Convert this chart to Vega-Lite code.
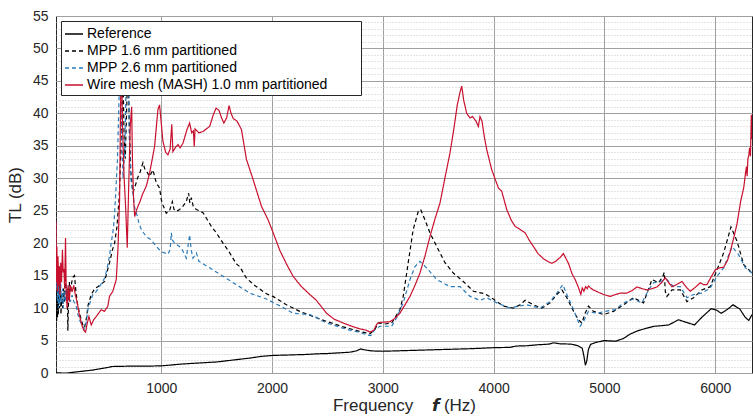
{
"$schema": "https://vega.github.io/schema/vega-lite/v6.json",
"width": 696, "height": 357,
"autosize": {"type": "none"},
"padding": {"left": 56, "top": 16, "right": 1, "bottom": 46},
"config": {"font": "Liberation Sans", "view": {"stroke": "#262626", "strokeWidth": 1},
  "axis": {"labelFont": "Liberation Sans", "labelColor": "#262626", "labelFontSize": 14, "titleFont": "Liberation Sans", "titleFontSize": 17, "titleFontWeight": "normal", "titleColor": "#262626", "domain": false, "ticks": false}},
"data": {"values": [
{"series":"Reference","f":50,"tl":0.05},{"series":"Reference","f":100,"tl":0.0},{"series":"Reference","f":150,"tl":0.0},{"series":"Reference","f":250,"tl":0.2},{"series":"Reference","f":380,"tl":0.45},{"series":"Reference","f":500,"tl":0.8},{"series":"Reference","f":560,"tl":1.0},{"series":"Reference","f":700,"tl":1.05},{"series":"Reference","f":850,"tl":1.05},{"series":"Reference","f":1000,"tl":1.1},{"series":"Reference","f":1100,"tl":1.25},{"series":"Reference","f":1200,"tl":1.4},{"series":"Reference","f":1300,"tl":1.5},{"series":"Reference","f":1400,"tl":1.6},{"series":"Reference","f":1500,"tl":1.7},{"series":"Reference","f":1600,"tl":1.9},{"series":"Reference","f":1700,"tl":2.1},{"series":"Reference","f":1800,"tl":2.3},{"series":"Reference","f":1900,"tl":2.55},{"series":"Reference","f":2000,"tl":2.7},{"series":"Reference","f":2100,"tl":2.75},{"series":"Reference","f":2200,"tl":2.8},{"series":"Reference","f":2300,"tl":2.85},{"series":"Reference","f":2400,"tl":2.95},{"series":"Reference","f":2500,"tl":3.0},{"series":"Reference","f":2600,"tl":3.1},{"series":"Reference","f":2700,"tl":3.2},{"series":"Reference","f":2760,"tl":3.4},{"series":"Reference","f":2800,"tl":3.7},{"series":"Reference","f":2840,"tl":3.55},{"series":"Reference","f":2900,"tl":3.4},{"series":"Reference","f":3000,"tl":3.35},{"series":"Reference","f":3200,"tl":3.45},{"series":"Reference","f":3400,"tl":3.55},{"series":"Reference","f":3600,"tl":3.65},{"series":"Reference","f":3800,"tl":3.75},{"series":"Reference","f":4000,"tl":3.9},{"series":"Reference","f":4150,"tl":3.95},{"series":"Reference","f":4200,"tl":4.15},{"series":"Reference","f":4300,"tl":4.2},{"series":"Reference","f":4400,"tl":4.35},{"series":"Reference","f":4500,"tl":4.45},{"series":"Reference","f":4540,"tl":4.65},{"series":"Reference","f":4600,"tl":4.5},{"series":"Reference","f":4700,"tl":4.45},{"series":"Reference","f":4760,"tl":4.2},{"series":"Reference","f":4800,"tl":3.8},{"series":"Reference","f":4815,"tl":2.6},{"series":"Reference","f":4828,"tl":1.2},{"series":"Reference","f":4840,"tl":1.8},{"series":"Reference","f":4855,"tl":3.6},{"series":"Reference","f":4875,"tl":4.4},{"series":"Reference","f":4920,"tl":4.7},{"series":"Reference","f":5000,"tl":5.0},{"series":"Reference","f":5100,"tl":4.9},{"series":"Reference","f":5170,"tl":5.3},{"series":"Reference","f":5233,"tl":6.0},{"series":"Reference","f":5300,"tl":6.5},{"series":"Reference","f":5380,"tl":6.9},{"series":"Reference","f":5450,"tl":7.2},{"series":"Reference","f":5520,"tl":7.3},{"series":"Reference","f":5580,"tl":7.4},{"series":"Reference","f":5668,"tl":8.2},{"series":"Reference","f":5740,"tl":7.8},{"series":"Reference","f":5813,"tl":7.4},{"series":"Reference","f":5880,"tl":8.6},{"series":"Reference","f":5964,"tl":9.9},{"series":"Reference","f":6010,"tl":9.7},{"series":"Reference","f":6055,"tl":9.2},{"series":"Reference","f":6110,"tl":9.8},{"series":"Reference","f":6160,"tl":10.5},{"series":"Reference","f":6220,"tl":9.9},{"series":"Reference","f":6270,"tl":8.6},{"series":"Reference","f":6303,"tl":8.1},{"series":"Reference","f":6332,"tl":9.0},
{"series":"MPP 1.6 mm partitioned","f":50,"tl":10},{"series":"MPP 1.6 mm partitioned","f":53,"tl":15},{"series":"MPP 1.6 mm partitioned","f":56,"tl":8},{"series":"MPP 1.6 mm partitioned","f":60,"tl":13},{"series":"MPP 1.6 mm partitioned","f":63,"tl":8.5},{"series":"MPP 1.6 mm partitioned","f":67,"tl":12},{"series":"MPP 1.6 mm partitioned","f":71,"tl":9},{"series":"MPP 1.6 mm partitioned","f":76,"tl":14},{"series":"MPP 1.6 mm partitioned","f":82,"tl":10},{"series":"MPP 1.6 mm partitioned","f":88,"tl":13.5},{"series":"MPP 1.6 mm partitioned","f":95,"tl":9},{"series":"MPP 1.6 mm partitioned","f":102,"tl":12},{"series":"MPP 1.6 mm partitioned","f":110,"tl":10},{"series":"MPP 1.6 mm partitioned","f":118,"tl":13},{"series":"MPP 1.6 mm partitioned","f":126,"tl":11},{"series":"MPP 1.6 mm partitioned","f":135,"tl":14.5},{"series":"MPP 1.6 mm partitioned","f":145,"tl":12},{"series":"MPP 1.6 mm partitioned","f":152,"tl":13},{"series":"MPP 1.6 mm partitioned","f":157,"tl":6.5},{"series":"MPP 1.6 mm partitioned","f":163,"tl":11},{"series":"MPP 1.6 mm partitioned","f":172,"tl":14},{"series":"MPP 1.6 mm partitioned","f":182,"tl":12.5},{"series":"MPP 1.6 mm partitioned","f":192,"tl":14},{"series":"MPP 1.6 mm partitioned","f":205,"tl":14.8},{"series":"MPP 1.6 mm partitioned","f":217,"tl":15},{"series":"MPP 1.6 mm partitioned","f":230,"tl":12.5},{"series":"MPP 1.6 mm partitioned","f":245,"tl":10.5},{"series":"MPP 1.6 mm partitioned","f":265,"tl":9},{"series":"MPP 1.6 mm partitioned","f":290,"tl":7.5},{"series":"MPP 1.6 mm partitioned","f":308,"tl":7},{"series":"MPP 1.6 mm partitioned","f":325,"tl":8.5},{"series":"MPP 1.6 mm partitioned","f":340,"tl":10.5},{"series":"MPP 1.6 mm partitioned","f":355,"tl":11.3},{"series":"MPP 1.6 mm partitioned","f":368,"tl":12.1},{"series":"MPP 1.6 mm partitioned","f":400,"tl":13},{"series":"MPP 1.6 mm partitioned","f":428,"tl":13.3},{"series":"MPP 1.6 mm partitioned","f":488,"tl":14.1},{"series":"MPP 1.6 mm partitioned","f":533,"tl":17},{"series":"MPP 1.6 mm partitioned","f":560,"tl":19},{"series":"MPP 1.6 mm partitioned","f":579,"tl":20},{"series":"MPP 1.6 mm partitioned","f":600,"tl":22.5},{"series":"MPP 1.6 mm partitioned","f":620,"tl":27},{"series":"MPP 1.6 mm partitioned","f":640,"tl":36},{"series":"MPP 1.6 mm partitioned","f":655,"tl":46},{"series":"MPP 1.6 mm partitioned","f":665,"tl":36},{"series":"MPP 1.6 mm partitioned","f":675,"tl":33},{"series":"MPP 1.6 mm partitioned","f":690,"tl":42},{"series":"MPP 1.6 mm partitioned","f":700,"tl":48},{"series":"MPP 1.6 mm partitioned","f":712,"tl":38},{"series":"MPP 1.6 mm partitioned","f":725,"tl":31},{"series":"MPP 1.6 mm partitioned","f":744,"tl":27.8},{"series":"MPP 1.6 mm partitioned","f":760,"tl":28.5},{"series":"MPP 1.6 mm partitioned","f":785,"tl":30},{"series":"MPP 1.6 mm partitioned","f":810,"tl":31},{"series":"MPP 1.6 mm partitioned","f":835,"tl":32.4},{"series":"MPP 1.6 mm partitioned","f":850,"tl":31.5},{"series":"MPP 1.6 mm partitioned","f":870,"tl":31},{"series":"MPP 1.6 mm partitioned","f":895,"tl":30.3},{"series":"MPP 1.6 mm partitioned","f":925,"tl":31.3},{"series":"MPP 1.6 mm partitioned","f":955,"tl":29.3},{"series":"MPP 1.6 mm partitioned","f":985,"tl":28.5},{"series":"MPP 1.6 mm partitioned","f":1000,"tl":26.7},{"series":"MPP 1.6 mm partitioned","f":1015,"tl":25.9},{"series":"MPP 1.6 mm partitioned","f":1045,"tl":24.6},{"series":"MPP 1.6 mm partitioned","f":1075,"tl":25},{"series":"MPP 1.6 mm partitioned","f":1100,"tl":26.4},{"series":"MPP 1.6 mm partitioned","f":1115,"tl":25.2},{"series":"MPP 1.6 mm partitioned","f":1135,"tl":24.9},{"series":"MPP 1.6 mm partitioned","f":1166,"tl":25.2},{"series":"MPP 1.6 mm partitioned","f":1196,"tl":25.7},{"series":"MPP 1.6 mm partitioned","f":1226,"tl":26.4},{"series":"MPP 1.6 mm partitioned","f":1247,"tl":27.7},{"series":"MPP 1.6 mm partitioned","f":1258,"tl":26.2},{"series":"MPP 1.6 mm partitioned","f":1271,"tl":27},{"series":"MPP 1.6 mm partitioned","f":1290,"tl":25.6},{"series":"MPP 1.6 mm partitioned","f":1317,"tl":25.2},{"series":"MPP 1.6 mm partitioned","f":1377,"tl":24.7},{"series":"MPP 1.6 mm partitioned","f":1452,"tl":22.6},{"series":"MPP 1.6 mm partitioned","f":1497,"tl":21.6},{"series":"MPP 1.6 mm partitioned","f":1558,"tl":20},{"series":"MPP 1.6 mm partitioned","f":1618,"tl":18.5},{"series":"MPP 1.6 mm partitioned","f":1678,"tl":16.8},{"series":"MPP 1.6 mm partitioned","f":1708,"tl":16.4},{"series":"MPP 1.6 mm partitioned","f":1769,"tl":14.6},{"series":"MPP 1.6 mm partitioned","f":1850,"tl":13.4},{"series":"MPP 1.6 mm partitioned","f":1950,"tl":12.2},{"series":"MPP 1.6 mm partitioned","f":2009,"tl":11.8},{"series":"MPP 1.6 mm partitioned","f":2130,"tl":10.5},{"series":"MPP 1.6 mm partitioned","f":2250,"tl":9.5},{"series":"MPP 1.6 mm partitioned","f":2371,"tl":8.7},{"series":"MPP 1.6 mm partitioned","f":2492,"tl":7.95},{"series":"MPP 1.6 mm partitioned","f":2642,"tl":7.1},{"series":"MPP 1.6 mm partitioned","f":2793,"tl":6.4},{"series":"MPP 1.6 mm partitioned","f":2883,"tl":6.05},{"series":"MPP 1.6 mm partitioned","f":2928,"tl":6.7},{"series":"MPP 1.6 mm partitioned","f":2958,"tl":7.7},{"series":"MPP 1.6 mm partitioned","f":3019,"tl":7.55},{"series":"MPP 1.6 mm partitioned","f":3079,"tl":7.7},{"series":"MPP 1.6 mm partitioned","f":3154,"tl":9.75},{"series":"MPP 1.6 mm partitioned","f":3184,"tl":11.8},{"series":"MPP 1.6 mm partitioned","f":3229,"tl":17},{"series":"MPP 1.6 mm partitioned","f":3274,"tl":22.1},{"series":"MPP 1.6 mm partitioned","f":3320,"tl":24.9},{"series":"MPP 1.6 mm partitioned","f":3341,"tl":25.2},{"series":"MPP 1.6 mm partitioned","f":3380,"tl":23.6},{"series":"MPP 1.6 mm partitioned","f":3425,"tl":21.6},{"series":"MPP 1.6 mm partitioned","f":3486,"tl":19.5},{"series":"MPP 1.6 mm partitioned","f":3561,"tl":17},{"series":"MPP 1.6 mm partitioned","f":3636,"tl":15.4},{"series":"MPP 1.6 mm partitioned","f":3726,"tl":14.1},{"series":"MPP 1.6 mm partitioned","f":3817,"tl":12.6},{"series":"MPP 1.6 mm partitioned","f":3922,"tl":12.2},{"series":"MPP 1.6 mm partitioned","f":3997,"tl":11.4},{"series":"MPP 1.6 mm partitioned","f":4088,"tl":10.3},{"series":"MPP 1.6 mm partitioned","f":4178,"tl":10},{"series":"MPP 1.6 mm partitioned","f":4239,"tl":10.5},{"series":"MPP 1.6 mm partitioned","f":4284,"tl":11.2},{"series":"MPP 1.6 mm partitioned","f":4359,"tl":10.5},{"series":"MPP 1.6 mm partitioned","f":4435,"tl":10},{"series":"MPP 1.6 mm partitioned","f":4510,"tl":10.8},{"series":"MPP 1.6 mm partitioned","f":4570,"tl":12.1},{"series":"MPP 1.6 mm partitioned","f":4616,"tl":12.8},{"series":"MPP 1.6 mm partitioned","f":4661,"tl":11.6},{"series":"MPP 1.6 mm partitioned","f":4721,"tl":9.5},{"series":"MPP 1.6 mm partitioned","f":4766,"tl":8.2},{"series":"MPP 1.6 mm partitioned","f":4796,"tl":7.7},{"series":"MPP 1.6 mm partitioned","f":4826,"tl":9.2},{"series":"MPP 1.6 mm partitioned","f":4856,"tl":10.3},{"series":"MPP 1.6 mm partitioned","f":4901,"tl":9.5},{"series":"MPP 1.6 mm partitioned","f":4992,"tl":9},{"series":"MPP 1.6 mm partitioned","f":5082,"tl":9.5},{"series":"MPP 1.6 mm partitioned","f":5172,"tl":10.5},{"series":"MPP 1.6 mm partitioned","f":5262,"tl":11.6},{"series":"MPP 1.6 mm partitioned","f":5353,"tl":10.8},{"series":"MPP 1.6 mm partitioned","f":5429,"tl":14.4},{"series":"MPP 1.6 mm partitioned","f":5489,"tl":13.9},{"series":"MPP 1.6 mm partitioned","f":5528,"tl":14.9},{"series":"MPP 1.6 mm partitioned","f":5540,"tl":15.5},{"series":"MPP 1.6 mm partitioned","f":5550,"tl":12.5},{"series":"MPP 1.6 mm partitioned","f":5564,"tl":11.8},{"series":"MPP 1.6 mm partitioned","f":5610,"tl":12.8},{"series":"MPP 1.6 mm partitioned","f":5685,"tl":12.8},{"series":"MPP 1.6 mm partitioned","f":5745,"tl":11},{"series":"MPP 1.6 mm partitioned","f":5805,"tl":11.6},{"series":"MPP 1.6 mm partitioned","f":5880,"tl":12.8},{"series":"MPP 1.6 mm partitioned","f":5955,"tl":13.3},{"series":"MPP 1.6 mm partitioned","f":6016,"tl":15.9},{"series":"MPP 1.6 mm partitioned","f":6076,"tl":18.5},{"series":"MPP 1.6 mm partitioned","f":6142,"tl":22.5},{"series":"MPP 1.6 mm partitioned","f":6197,"tl":20.3},{"series":"MPP 1.6 mm partitioned","f":6257,"tl":16.7},{"series":"MPP 1.6 mm partitioned","f":6332,"tl":15.4},
{"series":"MPP 2.6 mm partitioned","f":50,"tl":23.2},{"series":"MPP 2.6 mm partitioned","f":52,"tl":20},{"series":"MPP 2.6 mm partitioned","f":55,"tl":13},{"series":"MPP 2.6 mm partitioned","f":59,"tl":16},{"series":"MPP 2.6 mm partitioned","f":63,"tl":11},{"series":"MPP 2.6 mm partitioned","f":67,"tl":14},{"series":"MPP 2.6 mm partitioned","f":72,"tl":10},{"series":"MPP 2.6 mm partitioned","f":78,"tl":13},{"series":"MPP 2.6 mm partitioned","f":85,"tl":10.5},{"series":"MPP 2.6 mm partitioned","f":92,"tl":14},{"series":"MPP 2.6 mm partitioned","f":100,"tl":11},{"series":"MPP 2.6 mm partitioned","f":108,"tl":13},{"series":"MPP 2.6 mm partitioned","f":115,"tl":10},{"series":"MPP 2.6 mm partitioned","f":125,"tl":12.5},{"series":"MPP 2.6 mm partitioned","f":135,"tl":11},{"series":"MPP 2.6 mm partitioned","f":145,"tl":13.5},{"series":"MPP 2.6 mm partitioned","f":155,"tl":11},{"series":"MPP 2.6 mm partitioned","f":165,"tl":12.5},{"series":"MPP 2.6 mm partitioned","f":180,"tl":11},{"series":"MPP 2.6 mm partitioned","f":195,"tl":12},{"series":"MPP 2.6 mm partitioned","f":210,"tl":11},{"series":"MPP 2.6 mm partitioned","f":230,"tl":10.5},{"series":"MPP 2.6 mm partitioned","f":255,"tl":8.5},{"series":"MPP 2.6 mm partitioned","f":280,"tl":7.5},{"series":"MPP 2.6 mm partitioned","f":305,"tl":6.8},{"series":"MPP 2.6 mm partitioned","f":320,"tl":7.5},{"series":"MPP 2.6 mm partitioned","f":338,"tl":9.75},{"series":"MPP 2.6 mm partitioned","f":360,"tl":11},{"series":"MPP 2.6 mm partitioned","f":383,"tl":12.1},{"series":"MPP 2.6 mm partitioned","f":410,"tl":12.5},{"series":"MPP 2.6 mm partitioned","f":443,"tl":13.3},{"series":"MPP 2.6 mm partitioned","f":488,"tl":14.6},{"series":"MPP 2.6 mm partitioned","f":510,"tl":16},{"series":"MPP 2.6 mm partitioned","f":533,"tl":18},{"series":"MPP 2.6 mm partitioned","f":548,"tl":20},{"series":"MPP 2.6 mm partitioned","f":563,"tl":21.6},{"series":"MPP 2.6 mm partitioned","f":575,"tl":23.5},{"series":"MPP 2.6 mm partitioned","f":590,"tl":28},{"series":"MPP 2.6 mm partitioned","f":605,"tl":33},{"series":"MPP 2.6 mm partitioned","f":618,"tl":41.6},{"series":"MPP 2.6 mm partitioned","f":628,"tl":50},{"series":"MPP 2.6 mm partitioned","f":640,"tl":38},{"series":"MPP 2.6 mm partitioned","f":655,"tl":30},{"series":"MPP 2.6 mm partitioned","f":670,"tl":34},{"series":"MPP 2.6 mm partitioned","f":685,"tl":46},{"series":"MPP 2.6 mm partitioned","f":700,"tl":50},{"series":"MPP 2.6 mm partitioned","f":712,"tl":36},{"series":"MPP 2.6 mm partitioned","f":725,"tl":30},{"series":"MPP 2.6 mm partitioned","f":744,"tl":27.7},{"series":"MPP 2.6 mm partitioned","f":760,"tl":25.5},{"series":"MPP 2.6 mm partitioned","f":775,"tl":24.7},{"series":"MPP 2.6 mm partitioned","f":800,"tl":23},{"series":"MPP 2.6 mm partitioned","f":820,"tl":22.1},{"series":"MPP 2.6 mm partitioned","f":865,"tl":21},{"series":"MPP 2.6 mm partitioned","f":910,"tl":20.5},{"series":"MPP 2.6 mm partitioned","f":955,"tl":19.5},{"series":"MPP 2.6 mm partitioned","f":1000,"tl":18.7},{"series":"MPP 2.6 mm partitioned","f":1060,"tl":18.3},{"series":"MPP 2.6 mm partitioned","f":1080,"tl":19},{"series":"MPP 2.6 mm partitioned","f":1091,"tl":21.6},{"series":"MPP 2.6 mm partitioned","f":1100,"tl":20.5},{"series":"MPP 2.6 mm partitioned","f":1121,"tl":20},{"series":"MPP 2.6 mm partitioned","f":1181,"tl":19.3},{"series":"MPP 2.6 mm partitioned","f":1226,"tl":17.7},{"series":"MPP 2.6 mm partitioned","f":1256,"tl":21.3},{"series":"MPP 2.6 mm partitioned","f":1270,"tl":19},{"series":"MPP 2.6 mm partitioned","f":1286,"tl":17.7},{"series":"MPP 2.6 mm partitioned","f":1317,"tl":18.5},{"series":"MPP 2.6 mm partitioned","f":1340,"tl":17.2},{"series":"MPP 2.6 mm partitioned","f":1437,"tl":16.2},{"series":"MPP 2.6 mm partitioned","f":1558,"tl":14.9},{"series":"MPP 2.6 mm partitioned","f":1678,"tl":13.6},{"series":"MPP 2.6 mm partitioned","f":1799,"tl":12.3},{"series":"MPP 2.6 mm partitioned","f":1950,"tl":11.4},{"series":"MPP 2.6 mm partitioned","f":2040,"tl":10.6},{"series":"MPP 2.6 mm partitioned","f":2100,"tl":10.1},{"series":"MPP 2.6 mm partitioned","f":2190,"tl":9.2},{"series":"MPP 2.6 mm partitioned","f":2341,"tl":9},{"series":"MPP 2.6 mm partitioned","f":2400,"tl":8.6},{"series":"MPP 2.6 mm partitioned","f":2431,"tl":8.2},{"series":"MPP 2.6 mm partitioned","f":2492,"tl":7.7},{"series":"MPP 2.6 mm partitioned","f":2551,"tl":7.4},{"series":"MPP 2.6 mm partitioned","f":2642,"tl":6.9},{"series":"MPP 2.6 mm partitioned","f":2702,"tl":6.6},{"series":"MPP 2.6 mm partitioned","f":2793,"tl":6.25},{"series":"MPP 2.6 mm partitioned","f":2853,"tl":5.9},{"series":"MPP 2.6 mm partitioned","f":2890,"tl":5.75},{"series":"MPP 2.6 mm partitioned","f":2928,"tl":6.7},{"series":"MPP 2.6 mm partitioned","f":2973,"tl":7.2},{"series":"MPP 2.6 mm partitioned","f":3079,"tl":7.2},{"series":"MPP 2.6 mm partitioned","f":3124,"tl":8.5},{"series":"MPP 2.6 mm partitioned","f":3184,"tl":10.8},{"series":"MPP 2.6 mm partitioned","f":3245,"tl":14.4},{"series":"MPP 2.6 mm partitioned","f":3290,"tl":16.4},{"series":"MPP 2.6 mm partitioned","f":3335,"tl":17.2},{"series":"MPP 2.6 mm partitioned","f":3395,"tl":16.2},{"series":"MPP 2.6 mm partitioned","f":3486,"tl":14.4},{"series":"MPP 2.6 mm partitioned","f":3606,"tl":13.3},{"series":"MPP 2.6 mm partitioned","f":3697,"tl":13.3},{"series":"MPP 2.6 mm partitioned","f":3787,"tl":11.8},{"series":"MPP 2.6 mm partitioned","f":3877,"tl":11.2},{"series":"MPP 2.6 mm partitioned","f":3938,"tl":11.6},{"series":"MPP 2.6 mm partitioned","f":4028,"tl":10.8},{"series":"MPP 2.6 mm partitioned","f":4148,"tl":10},{"series":"MPP 2.6 mm partitioned","f":4224,"tl":10.3},{"series":"MPP 2.6 mm partitioned","f":4299,"tl":10.5},{"series":"MPP 2.6 mm partitioned","f":4390,"tl":10.1},{"series":"MPP 2.6 mm partitioned","f":4420,"tl":10},{"series":"MPP 2.6 mm partitioned","f":4510,"tl":11},{"series":"MPP 2.6 mm partitioned","f":4570,"tl":12.3},{"series":"MPP 2.6 mm partitioned","f":4624,"tl":13.6},{"series":"MPP 2.6 mm partitioned","f":4661,"tl":12.1},{"series":"MPP 2.6 mm partitioned","f":4721,"tl":9.75},{"series":"MPP 2.6 mm partitioned","f":4781,"tl":7.2},{"series":"MPP 2.6 mm partitioned","f":4811,"tl":7.95},{"series":"MPP 2.6 mm partitioned","f":4856,"tl":9.5},{"series":"MPP 2.6 mm partitioned","f":4931,"tl":9.2},{"series":"MPP 2.6 mm partitioned","f":5006,"tl":9.5},{"series":"MPP 2.6 mm partitioned","f":5097,"tl":9.75},{"series":"MPP 2.6 mm partitioned","f":5172,"tl":10.8},{"series":"MPP 2.6 mm partitioned","f":5262,"tl":11.4},{"series":"MPP 2.6 mm partitioned","f":5338,"tl":10.8},{"series":"MPP 2.6 mm partitioned","f":5398,"tl":12.8},{"series":"MPP 2.6 mm partitioned","f":5444,"tl":13.9},{"series":"MPP 2.6 mm partitioned","f":5504,"tl":14.1},{"series":"MPP 2.6 mm partitioned","f":5564,"tl":14.4},{"series":"MPP 2.6 mm partitioned","f":5624,"tl":13.3},{"series":"MPP 2.6 mm partitioned","f":5685,"tl":13.3},{"series":"MPP 2.6 mm partitioned","f":5745,"tl":11.6},{"series":"MPP 2.6 mm partitioned","f":5805,"tl":12.1},{"series":"MPP 2.6 mm partitioned","f":5880,"tl":12.3},{"series":"MPP 2.6 mm partitioned","f":5955,"tl":13.1},{"series":"MPP 2.6 mm partitioned","f":6016,"tl":14.9},{"series":"MPP 2.6 mm partitioned","f":6076,"tl":16.2},{"series":"MPP 2.6 mm partitioned","f":6152,"tl":19.5},{"series":"MPP 2.6 mm partitioned","f":6212,"tl":18.2},{"series":"MPP 2.6 mm partitioned","f":6272,"tl":16.2},{"series":"MPP 2.6 mm partitioned","f":6332,"tl":15.4},
{"series":"Wire mesh (MASH) 1.0 mm partitioned","f":50,"tl":23.4},{"series":"Wire mesh (MASH) 1.0 mm partitioned","f":54,"tl":14},{"series":"Wire mesh (MASH) 1.0 mm partitioned","f":58,"tl":19.5},{"series":"Wire mesh (MASH) 1.0 mm partitioned","f":63,"tl":12.5},{"series":"Wire mesh (MASH) 1.0 mm partitioned","f":68,"tl":18},{"series":"Wire mesh (MASH) 1.0 mm partitioned","f":74,"tl":13.5},{"series":"Wire mesh (MASH) 1.0 mm partitioned","f":80,"tl":16.5},{"series":"Wire mesh (MASH) 1.0 mm partitioned","f":86,"tl":12},{"series":"Wire mesh (MASH) 1.0 mm partitioned","f":93,"tl":17},{"series":"Wire mesh (MASH) 1.0 mm partitioned","f":100,"tl":14},{"series":"Wire mesh (MASH) 1.0 mm partitioned","f":108,"tl":19},{"series":"Wire mesh (MASH) 1.0 mm partitioned","f":115,"tl":15.5},{"series":"Wire mesh (MASH) 1.0 mm partitioned","f":122,"tl":16},{"series":"Wire mesh (MASH) 1.0 mm partitioned","f":128,"tl":13},{"series":"Wire mesh (MASH) 1.0 mm partitioned","f":136,"tl":20.8},{"series":"Wire mesh (MASH) 1.0 mm partitioned","f":143,"tl":12},{"series":"Wire mesh (MASH) 1.0 mm partitioned","f":150,"tl":10},{"series":"Wire mesh (MASH) 1.0 mm partitioned","f":160,"tl":13.5},{"series":"Wire mesh (MASH) 1.0 mm partitioned","f":170,"tl":11},{"series":"Wire mesh (MASH) 1.0 mm partitioned","f":180,"tl":13.5},{"series":"Wire mesh (MASH) 1.0 mm partitioned","f":195,"tl":12.5},{"series":"Wire mesh (MASH) 1.0 mm partitioned","f":210,"tl":13.5},{"series":"Wire mesh (MASH) 1.0 mm partitioned","f":225,"tl":12},{"series":"Wire mesh (MASH) 1.0 mm partitioned","f":240,"tl":11},{"series":"Wire mesh (MASH) 1.0 mm partitioned","f":260,"tl":9},{"series":"Wire mesh (MASH) 1.0 mm partitioned","f":285,"tl":7.3},{"series":"Wire mesh (MASH) 1.0 mm partitioned","f":300,"tl":6.6},{"series":"Wire mesh (MASH) 1.0 mm partitioned","f":317,"tl":6.3},{"series":"Wire mesh (MASH) 1.0 mm partitioned","f":330,"tl":7.5},{"series":"Wire mesh (MASH) 1.0 mm partitioned","f":347,"tl":8.7},{"series":"Wire mesh (MASH) 1.0 mm partitioned","f":368,"tl":7.4},{"series":"Wire mesh (MASH) 1.0 mm partitioned","f":390,"tl":8.2},{"series":"Wire mesh (MASH) 1.0 mm partitioned","f":413,"tl":8.7},{"series":"Wire mesh (MASH) 1.0 mm partitioned","f":458,"tl":9.75},{"series":"Wire mesh (MASH) 1.0 mm partitioned","f":488,"tl":9.5},{"series":"Wire mesh (MASH) 1.0 mm partitioned","f":518,"tl":10.3},{"series":"Wire mesh (MASH) 1.0 mm partitioned","f":533,"tl":11.8},{"series":"Wire mesh (MASH) 1.0 mm partitioned","f":563,"tl":12.6},{"series":"Wire mesh (MASH) 1.0 mm partitioned","f":594,"tl":14.4},{"series":"Wire mesh (MASH) 1.0 mm partitioned","f":609,"tl":19},{"series":"Wire mesh (MASH) 1.0 mm partitioned","f":624,"tl":26.7},{"series":"Wire mesh (MASH) 1.0 mm partitioned","f":632,"tl":40},{"series":"Wire mesh (MASH) 1.0 mm partitioned","f":640,"tl":50},{"series":"Wire mesh (MASH) 1.0 mm partitioned","f":650,"tl":38},{"series":"Wire mesh (MASH) 1.0 mm partitioned","f":665,"tl":30},{"series":"Wire mesh (MASH) 1.0 mm partitioned","f":680,"tl":25},{"series":"Wire mesh (MASH) 1.0 mm partitioned","f":693,"tl":19.3},{"series":"Wire mesh (MASH) 1.0 mm partitioned","f":705,"tl":28},{"series":"Wire mesh (MASH) 1.0 mm partitioned","f":720,"tl":38},{"series":"Wire mesh (MASH) 1.0 mm partitioned","f":733,"tl":41},{"series":"Wire mesh (MASH) 1.0 mm partitioned","f":740,"tl":33},{"series":"Wire mesh (MASH) 1.0 mm partitioned","f":750,"tl":27},{"series":"Wire mesh (MASH) 1.0 mm partitioned","f":760,"tl":24.1},{"series":"Wire mesh (MASH) 1.0 mm partitioned","f":775,"tl":25},{"series":"Wire mesh (MASH) 1.0 mm partitioned","f":790,"tl":25.7},{"series":"Wire mesh (MASH) 1.0 mm partitioned","f":810,"tl":26.5},{"series":"Wire mesh (MASH) 1.0 mm partitioned","f":830,"tl":27.5},{"series":"Wire mesh (MASH) 1.0 mm partitioned","f":865,"tl":28.8},{"series":"Wire mesh (MASH) 1.0 mm partitioned","f":895,"tl":30.8},{"series":"Wire mesh (MASH) 1.0 mm partitioned","f":940,"tl":34.9},{"series":"Wire mesh (MASH) 1.0 mm partitioned","f":970,"tl":40.6},{"series":"Wire mesh (MASH) 1.0 mm partitioned","f":985,"tl":41.3},{"series":"Wire mesh (MASH) 1.0 mm partitioned","f":1000,"tl":38.5},{"series":"Wire mesh (MASH) 1.0 mm partitioned","f":1015,"tl":35.7},{"series":"Wire mesh (MASH) 1.0 mm partitioned","f":1040,"tl":34},{"series":"Wire mesh (MASH) 1.0 mm partitioned","f":1060,"tl":33.6},{"series":"Wire mesh (MASH) 1.0 mm partitioned","f":1080,"tl":34.5},{"series":"Wire mesh (MASH) 1.0 mm partitioned","f":1095,"tl":38.3},{"series":"Wire mesh (MASH) 1.0 mm partitioned","f":1105,"tl":34.1},{"series":"Wire mesh (MASH) 1.0 mm partitioned","f":1130,"tl":34.8},{"series":"Wire mesh (MASH) 1.0 mm partitioned","f":1151,"tl":35.2},{"series":"Wire mesh (MASH) 1.0 mm partitioned","f":1170,"tl":34.7},{"series":"Wire mesh (MASH) 1.0 mm partitioned","f":1196,"tl":35.4},{"series":"Wire mesh (MASH) 1.0 mm partitioned","f":1232,"tl":37.5},{"series":"Wire mesh (MASH) 1.0 mm partitioned","f":1256,"tl":38.5},{"series":"Wire mesh (MASH) 1.0 mm partitioned","f":1275,"tl":37},{"series":"Wire mesh (MASH) 1.0 mm partitioned","f":1290,"tl":37.3},{"series":"Wire mesh (MASH) 1.0 mm partitioned","f":1298,"tl":34.9},{"series":"Wire mesh (MASH) 1.0 mm partitioned","f":1305,"tl":37.6},{"series":"Wire mesh (MASH) 1.0 mm partitioned","f":1340,"tl":37},{"series":"Wire mesh (MASH) 1.0 mm partitioned","f":1377,"tl":37.2},{"series":"Wire mesh (MASH) 1.0 mm partitioned","f":1437,"tl":38},{"series":"Wire mesh (MASH) 1.0 mm partitioned","f":1470,"tl":39.8},{"series":"Wire mesh (MASH) 1.0 mm partitioned","f":1495,"tl":40.8},{"series":"Wire mesh (MASH) 1.0 mm partitioned","f":1520,"tl":40.5},{"series":"Wire mesh (MASH) 1.0 mm partitioned","f":1545,"tl":39.3},{"series":"Wire mesh (MASH) 1.0 mm partitioned","f":1565,"tl":38.5},{"series":"Wire mesh (MASH) 1.0 mm partitioned","f":1590,"tl":39.3},{"series":"Wire mesh (MASH) 1.0 mm partitioned","f":1612,"tl":41.2},{"series":"Wire mesh (MASH) 1.0 mm partitioned","f":1630,"tl":40},{"series":"Wire mesh (MASH) 1.0 mm partitioned","f":1650,"tl":39.2},{"series":"Wire mesh (MASH) 1.0 mm partitioned","f":1684,"tl":38.8},{"series":"Wire mesh (MASH) 1.0 mm partitioned","f":1724,"tl":37.5},{"series":"Wire mesh (MASH) 1.0 mm partitioned","f":1769,"tl":32.9},{"series":"Wire mesh (MASH) 1.0 mm partitioned","f":1829,"tl":29.8},{"series":"Wire mesh (MASH) 1.0 mm partitioned","f":1904,"tl":25.7},{"series":"Wire mesh (MASH) 1.0 mm partitioned","f":1964,"tl":23.6},{"series":"Wire mesh (MASH) 1.0 mm partitioned","f":2010,"tl":21.6},{"series":"Wire mesh (MASH) 1.0 mm partitioned","f":2070,"tl":18.9},{"series":"Wire mesh (MASH) 1.0 mm partitioned","f":2130,"tl":16.8},{"series":"Wire mesh (MASH) 1.0 mm partitioned","f":2190,"tl":14.9},{"series":"Wire mesh (MASH) 1.0 mm partitioned","f":2260,"tl":13.4},{"series":"Wire mesh (MASH) 1.0 mm partitioned","f":2341,"tl":12.1},{"series":"Wire mesh (MASH) 1.0 mm partitioned","f":2400,"tl":11.2},{"series":"Wire mesh (MASH) 1.0 mm partitioned","f":2492,"tl":9.2},{"series":"Wire mesh (MASH) 1.0 mm partitioned","f":2560,"tl":8.3},{"series":"Wire mesh (MASH) 1.0 mm partitioned","f":2642,"tl":7.7},{"series":"Wire mesh (MASH) 1.0 mm partitioned","f":2720,"tl":7.2},{"series":"Wire mesh (MASH) 1.0 mm partitioned","f":2793,"tl":6.8},{"series":"Wire mesh (MASH) 1.0 mm partitioned","f":2850,"tl":6.6},{"series":"Wire mesh (MASH) 1.0 mm partitioned","f":2883,"tl":6.3},{"series":"Wire mesh (MASH) 1.0 mm partitioned","f":2920,"tl":6.6},{"series":"Wire mesh (MASH) 1.0 mm partitioned","f":2944,"tl":7.5},{"series":"Wire mesh (MASH) 1.0 mm partitioned","f":2973,"tl":7.8},{"series":"Wire mesh (MASH) 1.0 mm partitioned","f":3064,"tl":7.9},{"series":"Wire mesh (MASH) 1.0 mm partitioned","f":3100,"tl":8.3},{"series":"Wire mesh (MASH) 1.0 mm partitioned","f":3154,"tl":9.2},{"series":"Wire mesh (MASH) 1.0 mm partitioned","f":3200,"tl":10.5},{"series":"Wire mesh (MASH) 1.0 mm partitioned","f":3245,"tl":11.8},{"series":"Wire mesh (MASH) 1.0 mm partitioned","f":3290,"tl":13.5},{"series":"Wire mesh (MASH) 1.0 mm partitioned","f":3335,"tl":15.4},{"series":"Wire mesh (MASH) 1.0 mm partitioned","f":3380,"tl":18},{"series":"Wire mesh (MASH) 1.0 mm partitioned","f":3425,"tl":21},{"series":"Wire mesh (MASH) 1.0 mm partitioned","f":3470,"tl":23.7},{"series":"Wire mesh (MASH) 1.0 mm partitioned","f":3516,"tl":26.2},{"series":"Wire mesh (MASH) 1.0 mm partitioned","f":3560,"tl":30},{"series":"Wire mesh (MASH) 1.0 mm partitioned","f":3606,"tl":33.9},{"series":"Wire mesh (MASH) 1.0 mm partitioned","f":3640,"tl":37.5},{"series":"Wire mesh (MASH) 1.0 mm partitioned","f":3672,"tl":41.3},{"series":"Wire mesh (MASH) 1.0 mm partitioned","f":3700,"tl":43.5},{"series":"Wire mesh (MASH) 1.0 mm partitioned","f":3712,"tl":44.2},{"series":"Wire mesh (MASH) 1.0 mm partitioned","f":3730,"tl":42},{"series":"Wire mesh (MASH) 1.0 mm partitioned","f":3757,"tl":40},{"series":"Wire mesh (MASH) 1.0 mm partitioned","f":3787,"tl":39.3},{"series":"Wire mesh (MASH) 1.0 mm partitioned","f":3810,"tl":39.5},{"series":"Wire mesh (MASH) 1.0 mm partitioned","f":3841,"tl":38.8},{"series":"Wire mesh (MASH) 1.0 mm partitioned","f":3862,"tl":38},{"series":"Wire mesh (MASH) 1.0 mm partitioned","f":3877,"tl":39.5},{"series":"Wire mesh (MASH) 1.0 mm partitioned","f":3895,"tl":38.8},{"series":"Wire mesh (MASH) 1.0 mm partitioned","f":3915,"tl":36.5},{"series":"Wire mesh (MASH) 1.0 mm partitioned","f":3938,"tl":34.4},{"series":"Wire mesh (MASH) 1.0 mm partitioned","f":3983,"tl":31.3},{"series":"Wire mesh (MASH) 1.0 mm partitioned","f":4043,"tl":28.5},{"series":"Wire mesh (MASH) 1.0 mm partitioned","f":4073,"tl":28},{"series":"Wire mesh (MASH) 1.0 mm partitioned","f":4118,"tl":25.2},{"series":"Wire mesh (MASH) 1.0 mm partitioned","f":4160,"tl":23.5},{"series":"Wire mesh (MASH) 1.0 mm partitioned","f":4194,"tl":22.6},{"series":"Wire mesh (MASH) 1.0 mm partitioned","f":4240,"tl":22.1},{"series":"Wire mesh (MASH) 1.0 mm partitioned","f":4284,"tl":21.6},{"series":"Wire mesh (MASH) 1.0 mm partitioned","f":4320,"tl":20.5},{"series":"Wire mesh (MASH) 1.0 mm partitioned","f":4359,"tl":19.5},{"series":"Wire mesh (MASH) 1.0 mm partitioned","f":4400,"tl":18.4},{"series":"Wire mesh (MASH) 1.0 mm partitioned","f":4450,"tl":17.6},{"series":"Wire mesh (MASH) 1.0 mm partitioned","f":4500,"tl":17.1},{"series":"Wire mesh (MASH) 1.0 mm partitioned","f":4525,"tl":16.9},{"series":"Wire mesh (MASH) 1.0 mm partitioned","f":4560,"tl":17.2},{"series":"Wire mesh (MASH) 1.0 mm partitioned","f":4600,"tl":17.8},{"series":"Wire mesh (MASH) 1.0 mm partitioned","f":4630,"tl":18.4},{"series":"Wire mesh (MASH) 1.0 mm partitioned","f":4675,"tl":16.9},{"series":"Wire mesh (MASH) 1.0 mm partitioned","f":4710,"tl":15.2},{"series":"Wire mesh (MASH) 1.0 mm partitioned","f":4736,"tl":14.4},{"series":"Wire mesh (MASH) 1.0 mm partitioned","f":4765,"tl":13.2},{"series":"Wire mesh (MASH) 1.0 mm partitioned","f":4787,"tl":12.1},{"series":"Wire mesh (MASH) 1.0 mm partitioned","f":4800,"tl":13.1},{"series":"Wire mesh (MASH) 1.0 mm partitioned","f":4815,"tl":12.6},{"series":"Wire mesh (MASH) 1.0 mm partitioned","f":4830,"tl":13.3},{"series":"Wire mesh (MASH) 1.0 mm partitioned","f":4845,"tl":13.0},{"series":"Wire mesh (MASH) 1.0 mm partitioned","f":4856,"tl":13.4},{"series":"Wire mesh (MASH) 1.0 mm partitioned","f":4875,"tl":13.1},{"series":"Wire mesh (MASH) 1.0 mm partitioned","f":4900,"tl":12.8},{"series":"Wire mesh (MASH) 1.0 mm partitioned","f":4950,"tl":12.4},{"series":"Wire mesh (MASH) 1.0 mm partitioned","f":4992,"tl":12.1},{"series":"Wire mesh (MASH) 1.0 mm partitioned","f":5052,"tl":11.8},{"series":"Wire mesh (MASH) 1.0 mm partitioned","f":5100,"tl":12.1},{"series":"Wire mesh (MASH) 1.0 mm partitioned","f":5142,"tl":12.3},{"series":"Wire mesh (MASH) 1.0 mm partitioned","f":5200,"tl":12.3},{"series":"Wire mesh (MASH) 1.0 mm partitioned","f":5250,"tl":12.7},{"series":"Wire mesh (MASH) 1.0 mm partitioned","f":5293,"tl":13.25},{"series":"Wire mesh (MASH) 1.0 mm partitioned","f":5340,"tl":13.0},{"series":"Wire mesh (MASH) 1.0 mm partitioned","f":5383,"tl":12.8},{"series":"Wire mesh (MASH) 1.0 mm partitioned","f":5430,"tl":13.0},{"series":"Wire mesh (MASH) 1.0 mm partitioned","f":5474,"tl":13.25},{"series":"Wire mesh (MASH) 1.0 mm partitioned","f":5520,"tl":14.0},{"series":"Wire mesh (MASH) 1.0 mm partitioned","f":5549,"tl":14.7},{"series":"Wire mesh (MASH) 1.0 mm partitioned","f":5580,"tl":13.9},{"series":"Wire mesh (MASH) 1.0 mm partitioned","f":5610,"tl":13.3},{"series":"Wire mesh (MASH) 1.0 mm partitioned","f":5650,"tl":13.6},{"series":"Wire mesh (MASH) 1.0 mm partitioned","f":5700,"tl":14.1},{"series":"Wire mesh (MASH) 1.0 mm partitioned","f":5740,"tl":13.2},{"series":"Wire mesh (MASH) 1.0 mm partitioned","f":5775,"tl":12.6},{"series":"Wire mesh (MASH) 1.0 mm partitioned","f":5820,"tl":13.2},{"series":"Wire mesh (MASH) 1.0 mm partitioned","f":5865,"tl":13.9},{"series":"Wire mesh (MASH) 1.0 mm partitioned","f":5895,"tl":13.6},{"series":"Wire mesh (MASH) 1.0 mm partitioned","f":5925,"tl":13.6},{"series":"Wire mesh (MASH) 1.0 mm partitioned","f":5960,"tl":14.7},{"series":"Wire mesh (MASH) 1.0 mm partitioned","f":6001,"tl":15.9},{"series":"Wire mesh (MASH) 1.0 mm partitioned","f":6040,"tl":16.2},{"series":"Wire mesh (MASH) 1.0 mm partitioned","f":6076,"tl":16.3},{"series":"Wire mesh (MASH) 1.0 mm partitioned","f":6110,"tl":17.3},{"series":"Wire mesh (MASH) 1.0 mm partitioned","f":6136,"tl":18.7},{"series":"Wire mesh (MASH) 1.0 mm partitioned","f":6170,"tl":21},{"series":"Wire mesh (MASH) 1.0 mm partitioned","f":6197,"tl":23},{"series":"Wire mesh (MASH) 1.0 mm partitioned","f":6230,"tl":26.5},{"series":"Wire mesh (MASH) 1.0 mm partitioned","f":6257,"tl":28.5},{"series":"Wire mesh (MASH) 1.0 mm partitioned","f":6275,"tl":31},{"series":"Wire mesh (MASH) 1.0 mm partitioned","f":6282,"tl":31.8},{"series":"Wire mesh (MASH) 1.0 mm partitioned","f":6288,"tl":30.3},{"series":"Wire mesh (MASH) 1.0 mm partitioned","f":6295,"tl":33},{"series":"Wire mesh (MASH) 1.0 mm partitioned","f":6302,"tl":33.4},{"series":"Wire mesh (MASH) 1.0 mm partitioned","f":6310,"tl":34.7},{"series":"Wire mesh (MASH) 1.0 mm partitioned","f":6318,"tl":33.4},{"series":"Wire mesh (MASH) 1.0 mm partitioned","f":6326,"tl":39.8},{"series":"Wire mesh (MASH) 1.0 mm partitioned","f":6332,"tl":36}
]},
"layer": [
 {"mark": {"type": "line", "opacity": 0, "strokeWidth": 0},
  "encoding": {
   "x": {"field": "f", "type": "quantitative", "scale": {"domain": [50, 6332], "nice": false, "zero": false},
     "axis": {"values": [1000,2000,3000,4000,5000,6000], "format": "d", "grid": true, "gridColor": "#a0a0a0", "labelPadding": 8, "title": "Frequency\u00a0\u00a0\u00a0\u00a0\ud835\ude5b (Hz)", "titlePadding": 2}},
   "y": {"field": "tl", "type": "quantitative", "scale": {"domain": [0, 55], "nice": false},
     "axis": {"orient": "left", "values": [0,1,2,3,4,5,6,7,8,9,10,11,12,13,14,15,16,17,18,19,20,21,22,23,24,25,26,27,28,29,30,31,32,33,34,35,36,37,38,39,40,41,42,43,44,45,46,47,48,49,50,51,52,53,54,55], "grid": true, "gridColor": "#c8c8c8", "gridDash": [1,2], "labels": false, "ticks": false, "title": null}},
   "detail": {"field": "series", "type": "nominal"}
  }},
 {"mark": {"type": "line", "strokeWidth": 1.2, "clip": true},
  "encoding": {
   "x": {"field": "f", "type": "quantitative",
     "axis": {"values": [1000,2000,3000,4000,5000,6000], "format": "d", "grid": true, "gridColor": "#a0a0a0", "labelPadding": 8, "title": "Frequency\u00a0\u00a0\u00a0\u00a0\ud835\ude5b (Hz)", "titlePadding": 2}},
   "y": {"field": "tl", "type": "quantitative",
     "axis": {"orient": "left", "values": [0,5,10,15,20,25,30,35,40,45,50,55], "grid": true, "gridColor": "#a0a0a0", "labelPadding": 8, "title": "TL (dB)", "titlePadding": 8}},
   "color": {"field": "series", "type": "nominal", "sort": null,
     "scale": {"domain": ["Reference","MPP 1.6 mm partitioned","MPP 2.6 mm partitioned","Wire mesh (MASH) 1.0 mm partitioned"], "range": ["#000000","#000000","#2b7bba","#c8102e"]},
     "legend": {"orient": "top-left", "offset": 5, "title": null, "fillColor": "white", "strokeColor": "#262626", "padding": 3, "labelFontSize": 14, "labelFont": "Liberation Sans", "labelColor": "#000000", "symbolType": "stroke", "symbolSize": 324, "symbolStrokeWidth": 1.3, "labelOffset": 3, "rowPadding": 0, "labelLimit": 400, "labelExpr": "datum.label + '\u2800\u2800\u2800'"}},
   "strokeDash": {"field": "series", "type": "nominal", "sort": null,
     "scale": {"domain": ["Reference","MPP 1.6 mm partitioned","MPP 2.6 mm partitioned","Wire mesh (MASH) 1.0 mm partitioned"], "range": [[1,0],[4,3],[4,3],[1,0]]},
     "legend": {"orient": "top-left", "offset": 5, "title": null, "fillColor": "white", "strokeColor": "#262626", "padding": 3, "labelFontSize": 14, "labelFont": "Liberation Sans", "labelColor": "#000000", "symbolType": "stroke", "symbolSize": 324, "symbolStrokeWidth": 1.3, "labelOffset": 3, "rowPadding": 0, "labelLimit": 400, "labelExpr": "datum.label + '\u2800\u2800\u2800'"}}
  }}
],
"resolve": {"axis": {"y": "independent"}}
}
